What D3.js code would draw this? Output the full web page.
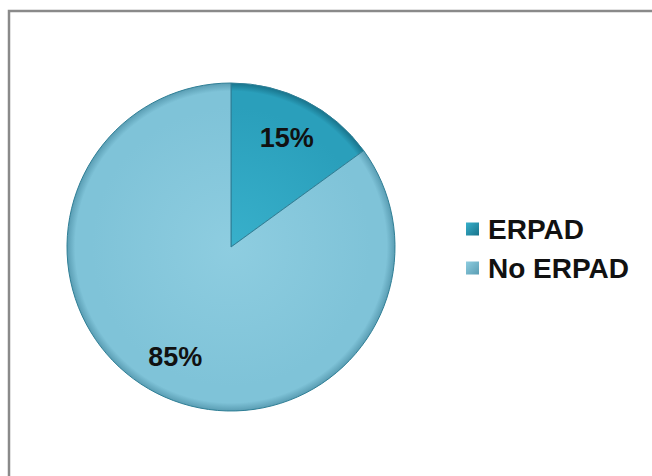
<!DOCTYPE html>
<html><head><meta charset="utf-8">
<script src="https://cdn.jsdelivr.net/npm/d3@7"></script>
<style>html,body{margin:0;padding:0;background:#fff;}svg{display:block;}</style>
</head><body>
<script>
const categories = ["ERPAD", "No ERPAD"];
const values = [15, 85];
const labels = ["15%", "85%"];

const W = 652, H = 476;
const svg = d3.select("body").append("svg").attr("width", W).attr("height", H);
const defs = svg.append("defs");

const cx = 231, cy = 247, r = 164;

const palette = [
  {c0: "#38b0cb", c1: "#2a9fbb", c2: "#18738b"},
  {c0: "#8ecde0", c1: "#7fc3d8", c2: "#5a9db3"}
];
palette.forEach((p, i) => {
  const g = defs.append("radialGradient").attr("id", "g" + i)
    .attr("gradientUnits", "userSpaceOnUse").attr("cx", 0).attr("cy", 0).attr("r", r);
  g.append("stop").attr("offset", "0%").attr("stop-color", p.c0);
  g.append("stop").attr("offset", "85%").attr("stop-color", p.c1);
  g.append("stop").attr("offset", "95%").attr("stop-color", p.c1);
  g.append("stop").attr("offset", "100%").attr("stop-color", p.c2);
  const lg = defs.append("linearGradient").attr("id", "l" + i)
    .attr("x1", 0).attr("y1", 0).attr("x2", 1).attr("y2", 1);
  lg.append("stop").attr("offset", "0%").attr("stop-color", p.c0);
  lg.append("stop").attr("offset", "100%").attr("stop-color", p.c2);
});

// frame
svg.append("rect").attr("x", 9).attr("y", 11).attr("width", W + 20).attr("height", H + 20)
  .attr("fill", "#fff").attr("stroke", "#8a8a8a").attr("stroke-width", 2.5);

const pie = d3.pie().sort(null).value(d => d)(values);
const arc = d3.arc().innerRadius(0).outerRadius(r);
const labelArc = d3.arc().innerRadius(r * 0.75).outerRadius(r * 0.75);

const g = svg.append("g").attr("transform", `translate(${cx},${cy})`);
g.selectAll("path.slice").data(pie).join("path").attr("class", "slice")
  .attr("d", arc)
  .attr("fill", (d, i) => `url(#g${i})`)
  .attr("stroke", "#2f7f96").attr("stroke-width", 1);

g.selectAll("text.lbl").data(pie).join("text").attr("class", "lbl")
  .attr("transform", d => `translate(${labelArc.centroid(d)})`)
  .attr("text-anchor", "middle").attr("dy", "0.36em")
  .attr("font-family", "Liberation Sans, Arial, sans-serif").attr("font-weight", "bold")
  .attr("font-size", 27).attr("fill", "#111")
  .text((d, i) => labels[i]);

const legend = svg.append("g");
const ly = d3.scalePoint().domain(categories).range([229, 268]);
categories.forEach((c, i) => {
  legend.append("rect").attr("x", 466).attr("y", ly(c) - 6.5).attr("width", 13).attr("height", 13)
    .attr("fill", `url(#l${i})`);
  legend.append("text").attr("x", 488).attr("y", ly(c)).attr("dy", "0.36em")
    .attr("font-family", "Liberation Sans, Arial, sans-serif").attr("font-weight", "bold")
    .attr("font-size", 28).attr("fill", "#111").text(c);
});
</script>
</body></html>
